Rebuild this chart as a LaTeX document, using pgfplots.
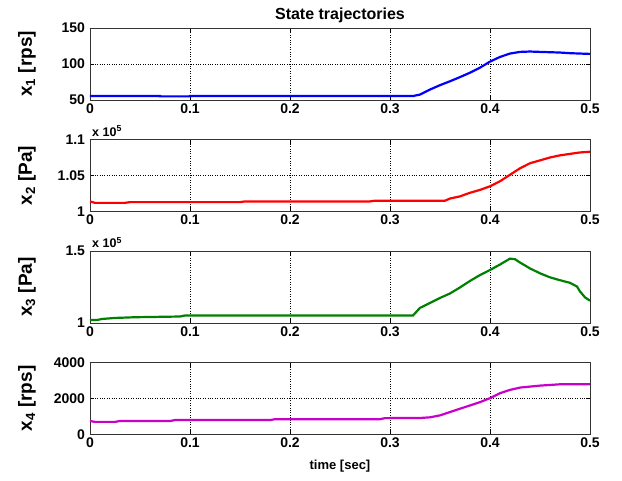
\documentclass[border=0pt]{standalone}
\usepackage{fontspec}
\setmainfont{Liberation Sans}
\usepackage{pgfplots}
\pgfplotsset{compat=1.18}
\definecolor{mblue}{RGB}{0,0,255}
\definecolor{mred}{RGB}{255,0,0}
\definecolor{mgreen}{RGB}{0,128,0}
\definecolor{mmag}{RGB}{200,0,200}
\pgfplotsset{
  panel/.style={
    scale only axis, width=500pt, height=72pt,
    anchor=south west,
    xmin=0, xmax=0.5,
    xtick={0,0.1,0.2,0.3,0.4,0.5},
    xticklabels={0,0.1,0.2,0.3,0.4,0.5},
    grid=major,
    major grid style={dotted, black, line width=0.6pt},
    tick align=inside, major tick length=4.5pt,
    tick style={black, line width=0.6pt},
    axis line style={line width=0.8pt, black!80},
    ticklabel style={font=\bfseries\fontsize{14}{14}\selectfont},
    yticklabel style={xshift=-1.5pt},
    ylabel style={at={(axis description cs:-0.126,0.5)}, anchor=center, font=\bfseries\fontsize{19}{19}\selectfont},
  },
  exp/.style={after end axis/.code={\node[anchor=south west, font=\bfseries\fontsize{12.5}{12.5}\selectfont, inner sep=0pt] at (rel axis cs:0.004,1.04) {x 10\textsuperscript{5}};}},
}
\begin{document}
\begin{tikzpicture}
\path[use as bounding box] (0,0) rectangle (622pt,481pt);
% panel 1
\begin{axis}[panel, at={(90pt,381pt)},
  ymin=50, ymax=150, ytick={50,100,150}, yticklabels={50,100,150},
  ylabel={x\textsubscript{1} [rps]},
  title={State trajectories},
  title style={font=\bfseries\fontsize{16}{16}\selectfont, yshift=-4pt}]
\addplot[mblue, line width=2.2pt] table {
0 55.5
0.07 55.5
0.07 55
0.1 55
0.1 55.5
0.323 55.5
0.33 57.5
0.34 64.5
0.35 70.6
0.36 76
0.37 81.8
0.38 87.9
0.39 94.9
0.40 103.3
0.41 109.8
0.42 114.5
0.43 116.8
0.44 117.3
0.45 116.8
0.47 115.9
0.48 115
0.5 114
};
\end{axis}
% panel 2
\begin{axis}[panel, exp, at={(90pt,269.5pt)},
  ymin=1, ymax=1.1, ytick={1,1.05,1.1}, yticklabels={1,1.05,1.1},
  ylabel={x\textsubscript{2} [Pa]}]
\addplot[mred, line width=2.2pt] table {
0 1.014
0.005 1.012
0.035 1.012
0.04 1.013
0.15 1.013
0.155 1.014
0.28 1.014
0.285 1.015
0.355 1.015
0.36 1.018
0.37 1.021
0.38 1.026
0.39 1.030
0.40 1.035
0.41 1.042
0.42 1.051
0.43 1.060
0.44 1.067
0.45 1.071
0.46 1.075
0.47 1.078
0.48 1.080
0.49 1.082
0.5 1.083
};
\end{axis}
% panel 3
\begin{axis}[panel, exp, at={(90pt,158pt)},
  ymin=1, ymax=1.5, ytick={1,1.5}, yticklabels={1,1.5},
  ylabel={x\textsubscript{3} [Pa]}]
\addplot[mgreen, line width=2.2pt] table {
0 1.02
0.008 1.022
0.012 1.028
0.025 1.035
0.045 1.04
0.09 1.045
0.095 1.052
0.323 1.052
0.33 1.105
0.34 1.139
0.35 1.174
0.36 1.205
0.37 1.247
0.38 1.292
0.39 1.333
0.40 1.368
0.41 1.406
0.42 1.447
0.425 1.443
0.43 1.42
0.44 1.379
0.45 1.345
0.46 1.317
0.47 1.297
0.48 1.279
0.487 1.253
0.49 1.219
0.495 1.178
0.5 1.155
};
\end{axis}
% panel 4
\begin{axis}[panel, at={(90pt,46.5pt)},
  ymin=0, ymax=4000, ytick={0,2000,4000}, yticklabels={0,2000,4000},
  ylabel={x\textsubscript{4} [rps]},
  xlabel={time [sec]},
  xlabel style={at={(axis description cs:0.5,0)}, anchor=center, yshift=-32pt, font=\bfseries\fontsize{13}{13}\selectfont}]
\addplot[mmag, line width=2.2pt] table {
0 750
0.005 700
0.025 700
0.03 750
0.08 750
0.085 800
0.18 800
0.185 850
0.29 850
0.295 910
0.33 917
0.34 954
0.35 1064
0.36 1248
0.37 1431
0.38 1615
0.39 1798
0.40 2018
0.41 2294
0.42 2477
0.43 2606
0.44 2661
0.45 2716
0.46 2752
0.47 2789
0.5 2789
};
\end{axis}
\end{tikzpicture}
\end{document}
